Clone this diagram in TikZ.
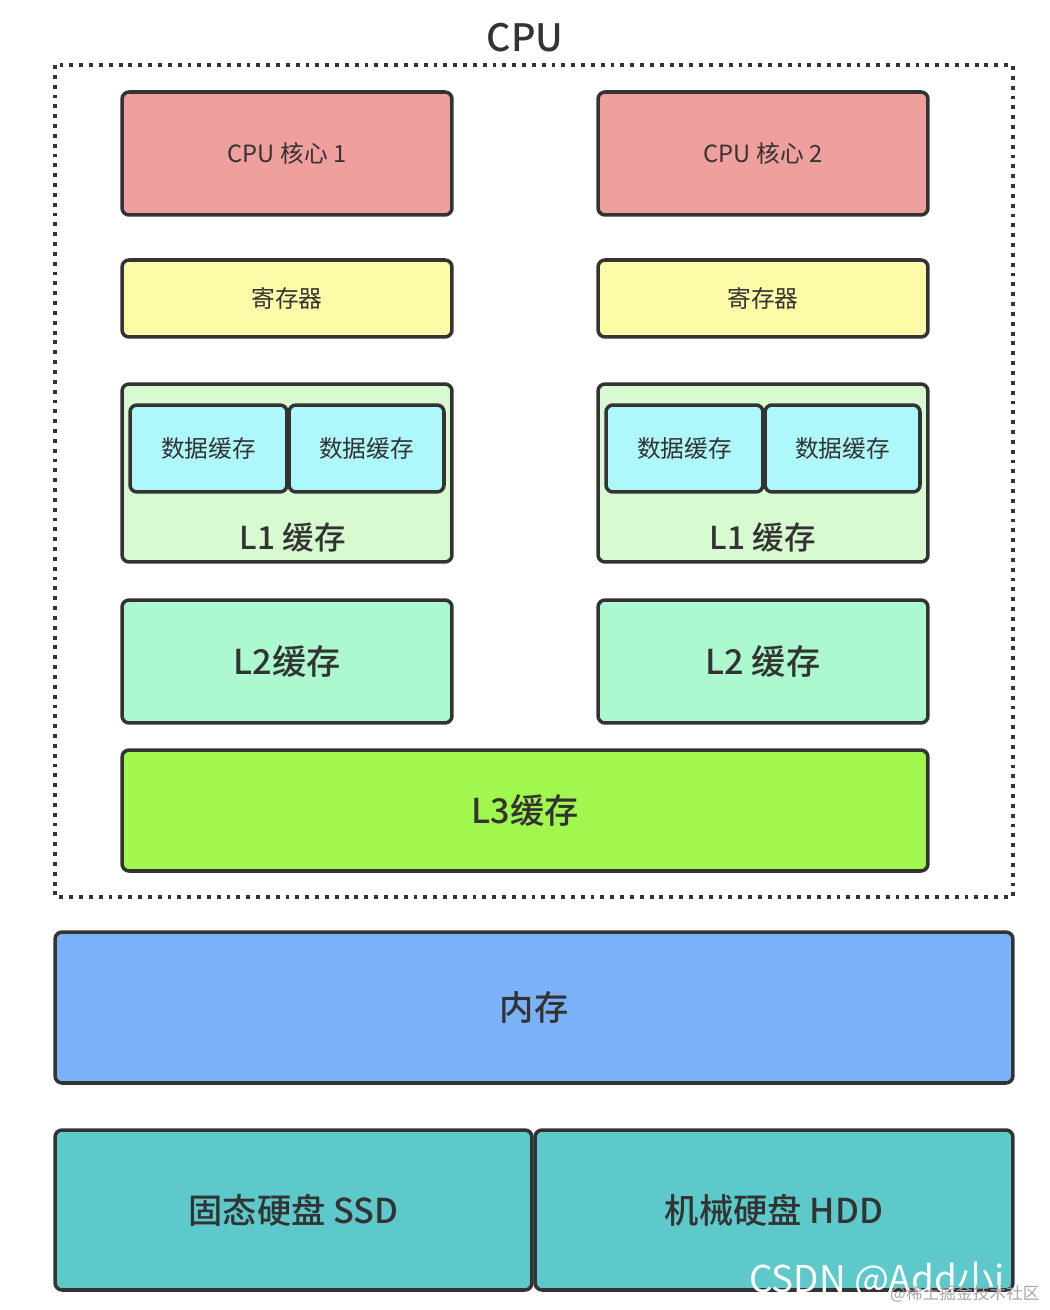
\documentclass[tikz,border=0pt]{standalone}
\usepackage{fontspec}
\setmainfont{Noto Sans CJK SC}
\newfontfamily\medfont{Noto Sans CJK SC Medium}
\usepackage{xcolor}
\usepackage{tikz}
\usetikzlibrary{positioning}

\definecolor{linecol}{HTML}{333333}
\definecolor{corecol}{HTML}{EF9F9C}
\definecolor{regcol}{HTML}{FDFBA8}
\definecolor{lonecol}{HTML}{D8FAD0}
\definecolor{datacol}{HTML}{AEF8FB}
\definecolor{ltwocol}{HTML}{ADF9CF}
\definecolor{lthreecol}{HTML}{A1F74E}
\definecolor{memcol}{HTML}{7AB1F9}
\definecolor{diskcol}{HTML}{5DC9CA}

\tikzset{
  box/.style={draw=linecol, line width=2pt, rounded corners=4pt, text=linecol, inner sep=0pt},
  small/.style={font=\fontsize{13.5}{16}\selectfont},
  big/.style={font=\medfont\fontsize{19.5}{22}\selectfont}
}

\begin{document}
\begin{tikzpicture}[x=0.02cm, y=-0.02cm]
    \useasboundingbox[fill=white] (0,0) rectangle (1050,1310);

    % CPU
    \node[text=linecol, font=\medfont\fontsize{21.5}{24}\selectfont] (cputitle) at (525,38) {CPU};
    \draw[linecol, line width=2.2pt, dash pattern=on 2.2pt off 3.4pt] (55,65) rectangle (1013,897);

    % core
    \node[box, small, fill=corecol, minimum width=6.6cm, minimum height=2.46cm] (core1) at (287,153.5) {CPU 核心 1};
    \node[box, small, fill=corecol, minimum width=6.6cm, minimum height=2.46cm] (core2) at (763,153.5) {CPU 核心 2};

    % registri
    \node[box, small, fill=regcol, minimum width=6.6cm, minimum height=1.54cm] (reg1) at (287,298.5) {寄存器};
    \node[box, small, fill=regcol, minimum width=6.6cm, minimum height=1.54cm] (reg2) at (763,298.5) {寄存器};

    % L1
    \node[box, fill=lonecol, minimum width=6.6cm, minimum height=3.56cm] (lone1) at (287,473) {};
    \node[box, fill=lonecol, minimum width=6.6cm, minimum height=3.56cm] (lone2) at (763,473) {};
    \node[box, small, fill=datacol, minimum width=3.14cm, minimum height=1.74cm] (data1a) at (208.5,448.5) {数据缓存};
    \node[box, small, fill=datacol, minimum width=3.1cm, minimum height=1.74cm] (data1b) at (366.5,448.5) {数据缓存};
    \node[box, small, fill=datacol, minimum width=3.14cm, minimum height=1.74cm] (data2a) at (684.5,448.5) {数据缓存};
    \node[box, small, fill=datacol, minimum width=3.1cm, minimum height=1.74cm] (data2b) at (842.5,448.5) {数据缓存};
    \node[text=linecol, font=\medfont\fontsize{18}{20}\selectfont] (lone1txt) at (293,537) {L1 缓存};
    \node[text=linecol, font=\medfont\fontsize{18}{20}\selectfont] (lone2txt) at (763,537) {L1 缓存};

    % L2
    \node[box, big, fill=ltwocol, minimum width=6.6cm, minimum height=2.46cm] (ltwo1) at (287,661.5) {L2缓存};
    \node[box, big, fill=ltwocol, minimum width=6.6cm, minimum height=2.46cm] (ltwo2) at (763,661.5) {L2 缓存};

    % L3
    \node[box, big, fill=lthreecol, minimum width=16.12cm, minimum height=2.42cm] (lthree) at (525,810.5) {L3缓存};

    % memoria
    \node[box, big, fill=memcol, minimum width=19.16cm, minimum height=3.02cm] (mem) at (534,1007.5) {内存};

    % dischi
    \node[box, big, fill=diskcol, minimum width=9.54cm, minimum height=3.2cm] (ssd) at (293.5,1210) {固态硬盘 SSD};
    \node[box, big, fill=diskcol, minimum width=9.56cm, minimum height=3.2cm] (hdd) at (774,1210) {机械硬盘 HDD};

    % filigrana
    \node[text=white, font=\fontsize{21}{23}\selectfont, anchor=west] (wmark) at (743,1280) {CSDN @Add小i};
    \node[text=gray!70, font=\fontsize{9.5}{11}\selectfont, anchor=west] (wmark2) at (884,1294) {@稀土掘金技术社区};
\end{tikzpicture}
\end{document}
